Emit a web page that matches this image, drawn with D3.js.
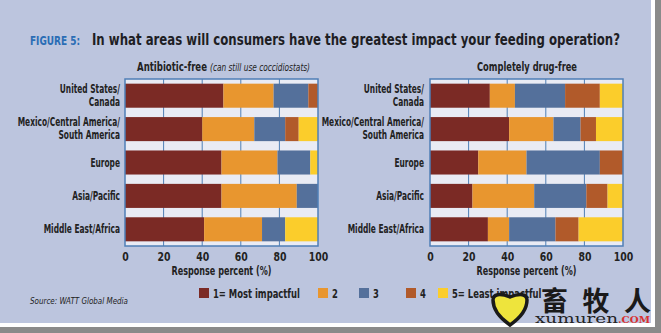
<!DOCTYPE html>
<html>
<head>
<meta charset="utf-8">
<script src="https://cdn.jsdelivr.net/npm/d3@7"></script>
<style>
  body { margin: 0; background: #fff; }
  svg { display: block; }
  .cond { font-family: "Liberation Sans Narrow", "DejaVu Sans Condensed", "Roboto", sans-serif; font-weight: bold; }
</style>
</head>
<body>
<div id="container"></div>
<script>
// data
var regions = ["United States/Canada", "Mexico/Central America/South America", "Europe", "Asia/Pacific", "Middle East/Africa"];
var regionLines = [["United States/", "Canada"], ["Mexico/Central America/", "South America"], ["Europe"], ["Asia/Pacific"], ["Middle East/Africa"]];
var levels = ["1= Most impactful", "2", "3", "4", "5= Least impactful"];
var levelColours = ["#7b2a25", "#e8962f", "#54709b", "#b15a2a", "#fbcd2b"];
// percent of responses per level, one row per region
var antibioticFree = [
  [51, 26, 18, 5, 0],
  [40, 27, 16, 7, 10],
  [50, 29, 17, 0, 4],
  [50, 39, 11, 0, 0],
  [41, 30, 12, 0, 17]
];
var drugFree = [
  [31, 13, 26, 18, 12],
  [41, 23, 14, 8, 14],
  [25, 25, 38, 12, 0],
  [22, 32, 27, 11, 8],
  [30, 11, 24, 12, 23]
];
var xTicks = [0, 20, 40, 60, 80, 100];

var W = 661, H = 333;
var svg = d3.select("#container").append("svg")
  .attr("width", W).attr("height", H);

// squeeze a text (or tspan) horizontally, the reference uses a condensed face
function squeeze(sel, f) {
  sel.each(function() {
    var len = this.getComputedTextLength();
    d3.select(this).attr("textLength", len * f).attr("lengthAdjust", "spacingAndGlyphs");
  });
}

// frame
svg.append("rect").attr("x", 0).attr("y", 0).attr("width", W).attr("height", H).attr("fill", "#fff");
svg.append("rect").attr("x", 655).attr("y", 0).attr("width", 6).attr("height", H).attr("fill", "#8a8a8a");
svg.append("rect").attr("x", 0).attr("y", 327).attr("width", W).attr("height", 6).attr("fill", "#8a8a8a");
svg.append("rect").attr("x", 0).attr("y", 0).attr("width", 651).attr("height", 323).attr("fill", "#bcc5de");

// title
var title = svg.append("text").attr("class", "cond").attr("y", 45);
title.append("tspan").attr("x", 30).attr("fill", "#2a6db5").attr("font-size", 12)
  .attr("textLength", 50).attr("lengthAdjust", "spacingAndGlyphs").text("FIGURE 5:");
title.append("tspan").attr("x", 92).attr("fill", "#1e1e24").attr("font-size", 16)
  .attr("textLength", 528).attr("lengthAdjust", "spacingAndGlyphs")
  .text("In what areas will consumers have the greatest impact your feeding operation?");

var y = d3.scaleBand().domain(regions).range([79, 246]).paddingInner(0.28).paddingOuter(0.14);

function drawPanel(values, x0, x1, labelX) {
  var x = d3.scaleLinear().domain([0, 100]).range([x0, x1]);
  var g = svg.append("g");

  var rows = values.map(function(v, i) {
    var r = { region: regions[i] };
    levels.forEach(function(l, j) { r[l] = v[j]; });
    return r;
  });
  var series = d3.stack().keys(levels)(rows);

  g.append("rect").attr("x", x(0)).attr("y", 79).attr("width", x(100) - x(0)).attr("height", 167)
    .attr("fill", "#e9ebf4");

  g.selectAll(".grid").data([20, 40, 60, 80]).enter().append("line")
    .attr("x1", function(d) { return x(d); }).attr("x2", function(d) { return x(d); })
    .attr("y1", 79).attr("y2", 246)
    .attr("stroke", "#4f7fb6").attr("stroke-width", 1);

  g.selectAll(".series").data(series).enter().append("g")
    .attr("fill", function(d, i) { return levelColours[i]; })
    .selectAll("rect").data(function(d) { return d; }).enter().append("rect")
    .attr("x", function(d) { return x(d[0]); })
    .attr("width", function(d) { return x(d[1]) - x(d[0]); })
    .attr("y", function(d) { return y(d.data.region); })
    .attr("height", y.bandwidth());

  g.append("rect").attr("x", x(0)).attr("y", 79).attr("width", x(100) - x(0)).attr("height", 167)
    .attr("fill", "none").attr("stroke", "#4f7fb6").attr("stroke-width", 1.5);

  var axis = d3.axisBottom(x).tickValues(xTicks).tickSize(0).tickPadding(4);
  var ag = g.append("g").attr("transform", "translate(0,246)").call(axis);
  ag.select(".domain").remove();
  ag.selectAll("text").attr("class", "cond").attr("font-size", 13).attr("fill", "#222")
    .attr("dy", "0.85em");
  squeeze(ag.selectAll("text"), 0.8);

  var at = g.append("text").attr("class", "cond").attr("x", (x0 + x1) / 2).attr("y", 275)
    .attr("text-anchor", "middle").attr("font-size", 13).attr("fill", "#222")
    .text("Response percent (%)");
  at.attr("textLength", 100).attr("lengthAdjust", "spacingAndGlyphs");

  // row labels
  regions.forEach(function(r, i) {
    var c = y(r) + y.bandwidth() / 2;
    var lines = regionLines[i];
    var t = g.append("text").attr("class", "cond").attr("text-anchor", "end")
      .attr("font-size", 11.5).attr("fill", "#222");
    if (lines.length == 1) {
      t.append("tspan").attr("x", labelX).attr("y", c + 4).text(lines[0]);
    } else {
      t.append("tspan").attr("x", labelX).attr("y", c - 3).text(lines[0]);
      t.append("tspan").attr("x", labelX).attr("y", c + 10).text(lines[1]);
    }
    squeeze(t.selectAll("tspan"), 0.72);
  });
  return g;
}

drawPanel(antibioticFree, 125, 318, 120);
drawPanel(drugFree, 430, 623, 424);

// panel titles
var st = svg.append("text").attr("y", 71).attr("fill", "#222");
st.append("tspan").attr("class", "cond").attr("x", 137).attr("font-size", 13)
  .attr("textLength", 70).attr("lengthAdjust", "spacingAndGlyphs").text("Antibiotic-free");
st.append("tspan").attr("x", 210).attr("font-size", 10)
  .attr("font-family", "'DejaVu Sans Condensed', sans-serif").attr("font-style", "italic")
  .attr("textLength", 100).attr("lengthAdjust", "spacingAndGlyphs")
  .text("(can still use coccidiostats)");
svg.append("text").attr("class", "cond").attr("x", 527).attr("y", 71).attr("text-anchor", "middle")
  .attr("font-size", 13).attr("fill", "#222")
  .attr("textLength", 100).attr("lengthAdjust", "spacingAndGlyphs")
  .text("Completely drug-free");

// legend
var legendX = [199, 318, 359, 406, 438];
var lg = svg.selectAll(".legend").data(levels).enter().append("g")
  .attr("transform", function(d, i) { return "translate(" + legendX[i] + ",288)"; });
lg.append("rect").attr("width", 10).attr("height", 10)
  .attr("fill", function(d, i) { return levelColours[i]; });
var lt = lg.append("text").attr("class", "cond").attr("x", 14).attr("y", 10)
  .attr("font-size", 13).attr("fill", "#222").text(function(d) { return d; });
squeeze(lt, 0.72);

// source
svg.append("text").attr("x", 30).attr("y", 304)
  .attr("font-family", "'DejaVu Sans Condensed', sans-serif")
  .attr("font-style", "italic").attr("font-size", 9).attr("fill", "#222")
  .attr("textLength", 98).attr("lengthAdjust", "spacingAndGlyphs")
  .text("Source: WATT Global Media");

// watermark
svg.append("path")
  .attr("d", "M510,325 C500,318 493,309 493,300 C493,294 500,293 510,297 C520,293 527,294 527,300 C527,309 520,318 510,325 Z")
  .attr("fill", "#eee43c").attr("stroke", "#1a1a1a").attr("stroke-width", 3.5);
svg.append("text").attr("x", 541).attr("y", 311)
  .attr("font-family", "'Noto Sans CJK SC', sans-serif").attr("font-weight", "bold")
  .attr("font-size", 27).attr("fill", "#1a1a1a")
  .attr("textLength", 110).attr("lengthAdjust", "spacing").text("畜牧人");
var wm = svg.append("text").attr("x", 535).attr("y", 323)
  .attr("font-family", "'DejaVu Serif', 'Liberation Serif', serif").attr("font-size", 13);
wm.append("tspan").attr("fill", "#222").attr("textLength", 83).attr("lengthAdjust", "spacingAndGlyphs").text("xumuren");
wm.append("tspan").attr("fill", "#d8302e").attr("font-size", 10).attr("font-weight", "bold")
  .attr("textLength", 32).attr("lengthAdjust", "spacingAndGlyphs").text(".COM");
</script>
</body>
</html>
